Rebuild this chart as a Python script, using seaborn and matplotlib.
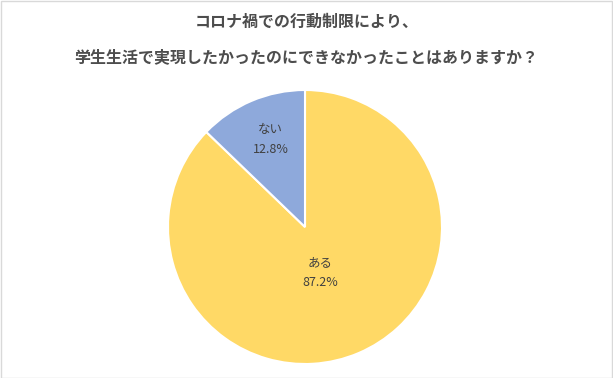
import seaborn as sns
import matplotlib.pyplot as plt
from matplotlib.patches import Rectangle

categories = ['ある', 'ない']
values = [87.2, 12.8]
colors = ['#FFD966', '#8EA9DB']
title_lines = ['コロナ禍での行動制限により、', '学生生活で実現したかったのにできなかったことはありますか？']

sns.set_theme(style='white')
plt.rcParams['font.family'] = ['Noto Sans CJK JP', 'DejaVu Sans']

W, H = 613, 378
fig = plt.figure(figsize=(W / 100, H / 100), dpi=100)

# pie centre / radius in pixels
cx, cy, r = 305, 227, 137
ax = fig.add_axes([(cx - r) / W, (H - cy - r) / H, 2 * r / W, 2 * r / H])
wedges, _ = ax.pie(values, colors=colors, startangle=90, counterclock=False,
                   wedgeprops=dict(edgecolor='white', linewidth=1.5))
ax.set_xlim(-1, 1)
ax.set_ylim(-1, 1)
ax.set_aspect('equal')
ax.axis('off')

label_pos = [(0.11, -0.33), (-0.25, 0.64)]
for cat, val, (x, y) in zip(categories, values, label_pos):
    ax.text(x, y + 0.073, cat, ha='center', va='center', fontsize=9, color='#404040')
    ax.text(x, y - 0.073, f'{val:.1f}%', ha='center', va='center', fontsize=9, color='#404040')

fig.text(0.5, 1 - 22 / H, title_lines[0], ha='center', va='center',
         fontsize=11.5, fontweight='bold', color='#4d4d4d')
fig.text(0.5, 1 - 57 / H, title_lines[1], ha='center', va='center',
         fontsize=11.5, fontweight='bold', color='#4d4d4d')

fig.patches.append(Rectangle((0.5 / W, 0.5 / H), 1 - 1.5 / W, 1 - 1.5 / H,
                             transform=fig.transFigure, fill=False,
                             edgecolor='#D9D9D9', linewidth=1))

fig.savefig('out.png', dpi=100, facecolor='white')
